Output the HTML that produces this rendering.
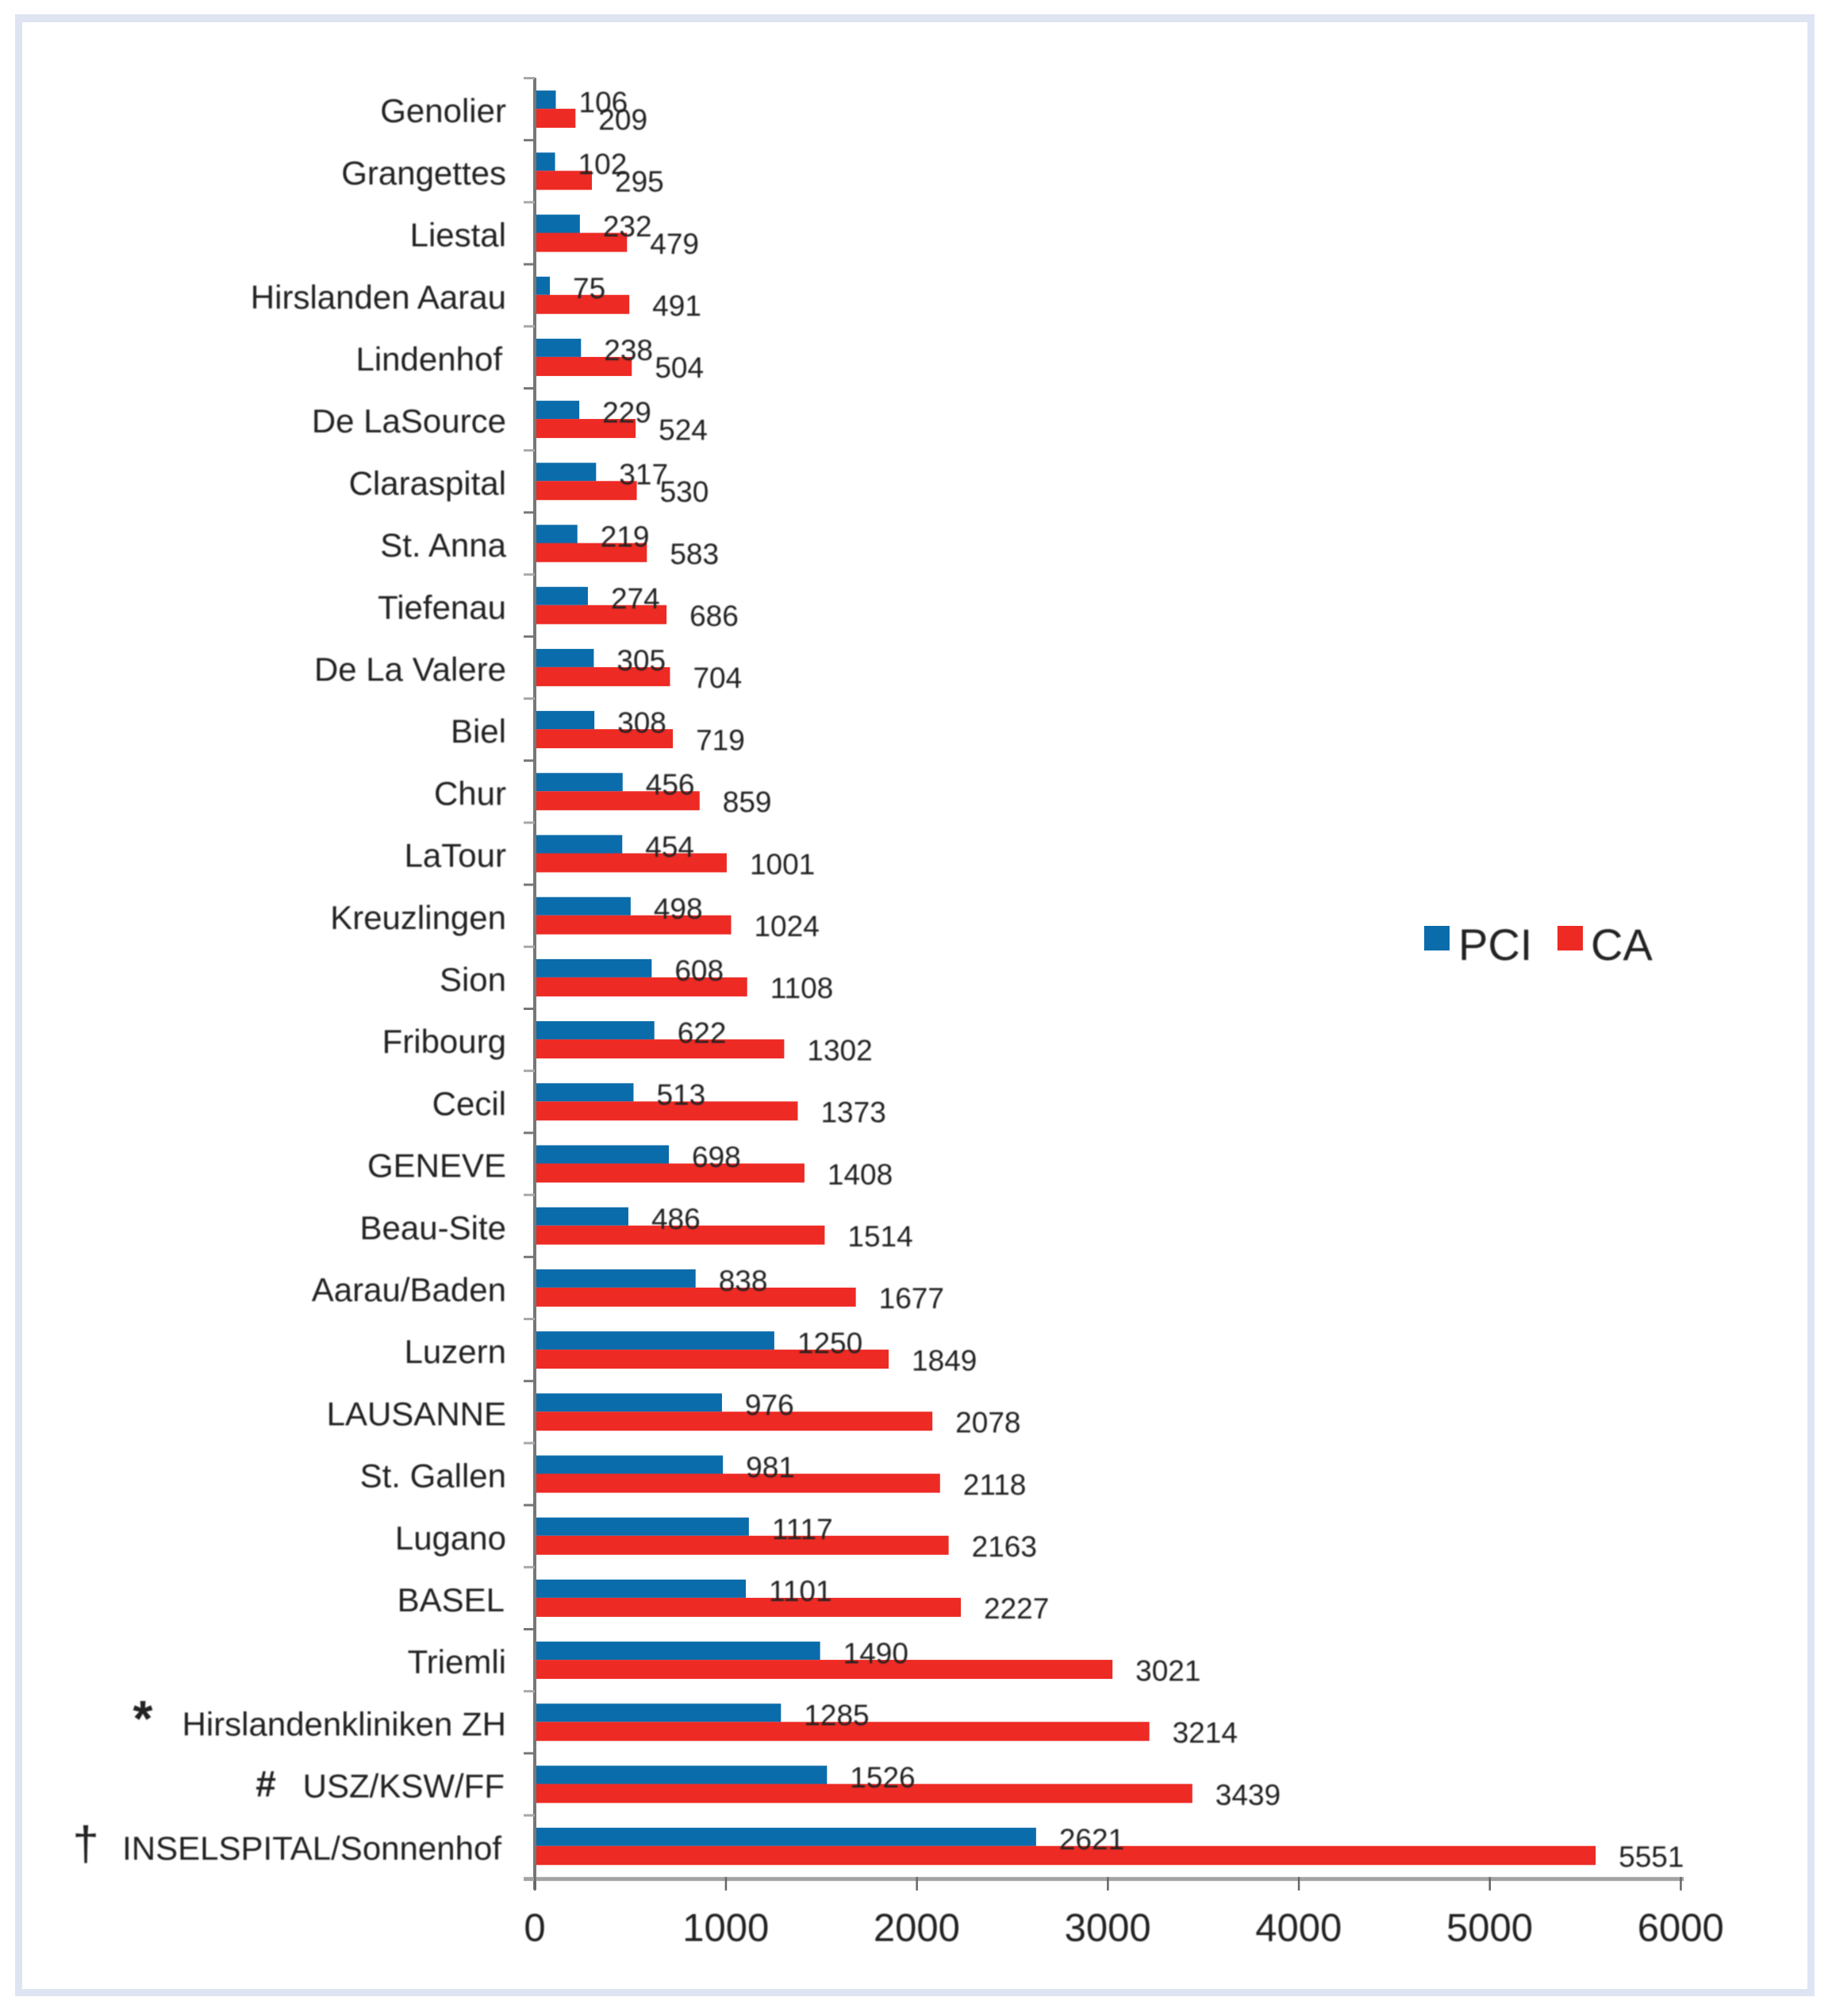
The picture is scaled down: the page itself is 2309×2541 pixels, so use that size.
<!DOCTYPE html>
<html lang="en">
<head>
<meta charset="utf-8">
<title>PCI and CA per centre</title>
<style>
  html, body { margin: 0; padding: 0; background: #ffffff; }
  svg { display: block; }
  text { font-family: "Liberation Sans", Arial, sans-serif; fill: #222222; }
  #marks text, #legend text, #symbols text { filter: url(#soft); }
</style>
</head>
<body>
<svg id="chart" xmlns="http://www.w3.org/2000/svg" width="2309" height="2541" viewBox="0 0 2309 2541">
  <defs>
    <filter id="soft" x="-5%" y="-10%" width="110%" height="120%"><feGaussianBlur stdDeviation="0.9"/></filter>
  </defs>
  <rect x="0" y="0" width="2309" height="2541" fill="#ffffff"/>
  <rect x="19" y="18" width="2268" height="2498" fill="#dfe4f2"/>
  <rect x="28" y="28" width="2250" height="2479" fill="#ffffff"/>
  <g id="axes"></g>
  <g id="marks"></g>
  <g id="symbols">
    <text x="180" y="2188" font-size="64" font-weight="bold" text-anchor="middle">*</text>
    <text x="335" y="2264" font-size="46" font-weight="bold" text-anchor="middle">#</text>
    <text x="108" y="2344" font-size="60" text-anchor="middle">†</text>
  </g>
  <g id="legend">
    <rect x="1795" y="1167" width="32" height="31" fill="#0b6cab"/>
    <text x="1838" y="1210" font-size="56">PCI</text>
    <rect x="1963" y="1167" width="32" height="31" fill="#ee2a24"/>
    <text x="2005" y="1210" font-size="56">CA</text>
  </g>
</svg>
<script>
var categories = ["Genolier","Grangettes","Liestal","Hirslanden Aarau","Lindenhof","De LaSource","Claraspital","St. Anna","Tiefenau","De La Valere","Biel","Chur","LaTour","Kreuzlingen","Sion","Fribourg","Cecil","GENEVE","Beau-Site","Aarau/Baden","Luzern","LAUSANNE","St. Gallen","Lugano","BASEL","Triemli","Hirslandenkliniken ZH","USZ/KSW/FF","INSELSPITAL/Sonnenhof"];
var pciValues = [106,102,232,75,238,229,317,219,274,305,308,456,454,498,608,622,513,698,486,838,1250,976,981,1117,1101,1490,1285,1526,2621];
var caValues = [209,295,479,491,504,524,530,583,686,704,719,859,1001,1024,1108,1302,1373,1408,1514,1677,1849,2078,2118,2163,2227,3021,3214,3439,5551];
var xTicks = [0,1000,2000,3000,4000,5000,6000];

var NS = "http://www.w3.org/2000/svg";
var axisLeft = 674, pxPerUnit = 0.2407, bandTop = 98, bandStep = 78.2;
var axisBottom = bandTop + categories.length * bandStep;

function xScale(v) { return axisLeft + v * pxPerUnit; }
function bandStart(i) { return bandTop + i * bandStep; }
function bandMid(i) { return bandStart(i) + bandStep / 2; }
function labelRight(name) {
  if (name === "INSELSPITAL/Sonnenhof") return 632;
  if (name === "Lindenhof") return 633;
  if (name === "BASEL" || name === "USZ/KSW/FF") return 636;
  return 638;
}

function shape(parent, tag, attrs) {
  var el = document.createElementNS(NS, tag);
  for (var k in attrs) el.setAttribute(k, attrs[k]);
  parent.appendChild(el);
  return el;
}
function label(parent, x, cy, size, str, anchor) {
  var t = shape(parent, "text", { x: x, y: cy + size * 0.36, "font-size": size, "text-anchor": anchor });
  t.textContent = str;
  return t;
}

var axes = document.getElementById("axes");
var marks = document.getElementById("marks");

var yAxis = shape(axes, "rect", { x: axisLeft - 2, y: bandTop, width: 4, height: axisBottom - bandTop + 16, fill: "#777777" });



var xAxis = shape(axes, "rect", { x: axisLeft - 14, y: axisBottom, width: xScale(6000) - axisLeft + 18, height: 5, fill: "#a3a3a3" });



for (var b = 0; b < categories.length; b++) {
  var yTick = shape(axes, "rect", { x: axisLeft - 14, y: bandStart(b) - 1, width: 14, height: 3, fill: b % 2 ? "#777777" : "#a8a8a8" });
  
  
}

xTicks.forEach(function (v) {
  var tick = shape(axes, "rect", { x: xScale(v) - 1, y: axisBottom, width: 2.5, height: 17, fill: "#666666" });
  
  
  var tl = label(marks, xScale(v), axisBottom + 63, 49, String(v), "middle");
  
  
});

categories.forEach(function (name, i) {
  var mid = bandMid(i);

  var cat = label(marks, labelRight(name), mid + 2, 42, name, "end");
  
  

  var pciBar = shape(marks, "rect", { x: xScale(0) + 2, y: mid - 23, width: xScale(pciValues[i]) - xScale(0) - 1, height: 23, fill: "#0b6cab" });
  
  

  var caBar = shape(marks, "rect", { x: xScale(0) + 2, y: mid, width: xScale(caValues[i]) - xScale(0) - 1, height: 24, fill: "#ee2a24" });
  
  
});

categories.forEach(function (name, i) {
  var mid = bandMid(i);

  var pciLabel = label(marks, xScale(pciValues[i]) + 30, mid - 9, 37, String(pciValues[i]), "start");
  
  

  var caLabel = label(marks, xScale(caValues[i]) + 30, mid + 13, 37, String(caValues[i]), "start");
  
  
});
</script>
</body>
</html>
